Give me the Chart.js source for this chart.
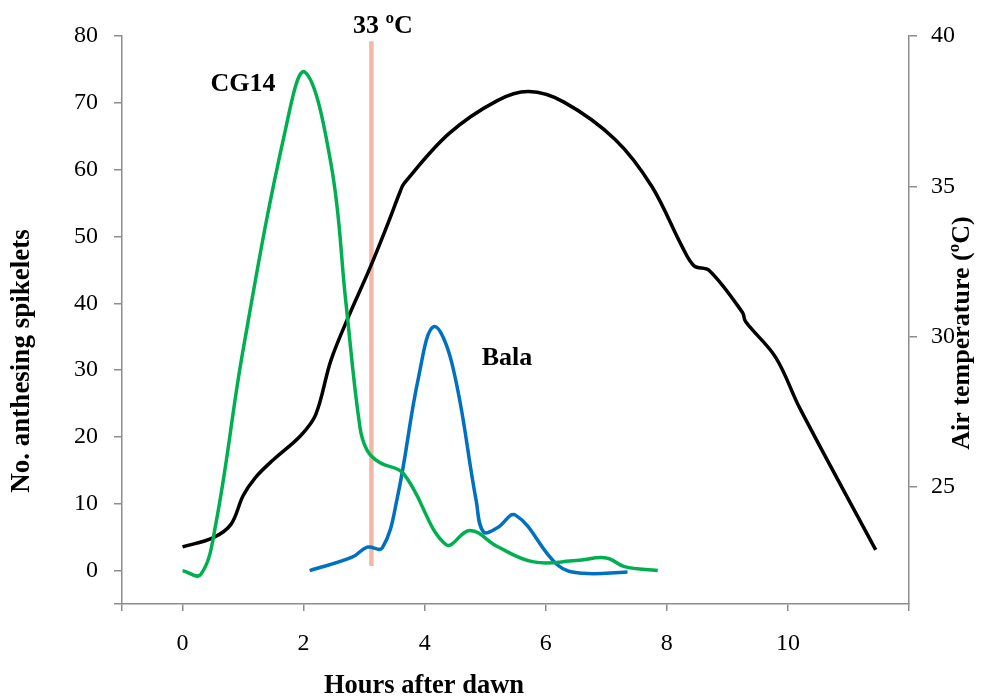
<!DOCTYPE html>
<html>
<head>
<meta charset="utf-8">
<script src="https://cdn.jsdelivr.net/npm/chart.js@4.4.1/dist/chart.umd.min.js"></script>
<style>
	body { margin: 0; background: #fff; }
	#wrap { width: 1002px; height: 698px; position: relative; }
</style>
</head>
<body>
<div id="wrap"><canvas id="chart"></canvas></div>
<script>
// hours after dawn / number of anthesing spikelets
const cg14Hours = [0, 0.3, 0.55, 1.0, 1.7, 2.02, 2.45, 2.7, 2.93, 3.05, 3.25, 3.65, 4.35, 4.75, 5.2, 5.8, 6.5, 7.0, 7.3, 7.85];
const cg14Count = [0, -0.6, 7, 33, 66, 74.6, 61, 40, 21.5, 18, 16.2, 14.5, 3.9, 6, 3.6, 1.3, 1.5, 1.9, 0.6, 0];

const balaHours = [2.1, 2.8, 3.05, 3.3, 3.55, 3.9, 4.15, 4.45, 4.85, 4.97, 5.2, 5.5, 6.2, 6.6, 7.35];
const balaCount = [0, 2, 3.5, 3.4, 11, 29, 36.5, 31, 10.5, 5.8, 6.4, 8.3, 0.8, -0.4, -0.2];

// air temperature (right axis)
const tempHours = [0, 0.5, 0.8, 1.0, 1.2, 1.5, 1.95, 2.2, 2.45, 2.75, 3.1, 3.4, 3.6, 3.66, 4.4, 5.2, 5.72, 6.3, 7.15, 7.75, 8.25, 8.45, 8.7, 9.25, 9.3, 9.8, 10.2, 11.45];
const tempValue = [23.0, 23.3, 23.75, 24.7, 25.3, 25.9, 26.7, 27.4, 29.2, 30.7, 32.3, 33.8, 34.85, 35.1, 36.75, 37.85, 38.15, 37.8, 36.55, 35.0, 33.0, 32.35, 32.2, 30.8, 30.5, 29.3, 27.6, 22.9];

// 33 ºC marker
const markHours = [3.12, 3.12];
const markCount = [0.7, 79.2];

const xTicks = [-1, 0, 2, 4, 6, 8, 10, 12];
const xLabels = [0, 2, 4, 6, 8, 10];
const countTicks = [-5, 0, 10, 20, 30, 40, 50, 60, 70, 80];
const tempTicks = [25, 30, 35, 40];

const serif = "'Liberation Serif', 'Times New Roman', serif";
const axisGray = '#8c8c8c';

function points(xs, ys) {
	return xs.map((x, i) => ({ x: x, y: ys[i] }));
}

const labelsPlugin = {
	id: 'labels',
	afterDraw(chart) {
		const ctx = chart.ctx;
		const x = chart.scales.x;
		const yl = chart.scales.y;
		ctx.save();
		ctx.fillStyle = '#000';
		ctx.textAlign = 'center';
		ctx.textBaseline = 'middle';
		ctx.font = 'bold 26px ' + serif;
		ctx.fillText('CG14', x.getPixelForValue(1.0), yl.getPixelForValue(72.7));
		ctx.fillText('Bala', x.getPixelForValue(5.36), yl.getPixelForValue(31.8));
		ctx.fillText('33 ºC', x.getPixelForValue(3.31), yl.getPixelForValue(81.4));

		// axis titles
		ctx.font = 'bold 26.5px ' + serif;
		ctx.fillText('Hours after dawn', 424, 686);

		ctx.save();
		ctx.font = 'bold 27px ' + serif;
		ctx.translate(22, 361);
		ctx.rotate(-Math.PI / 2);
		ctx.fillText('No. anthesing spikelets', 0, 0);
		ctx.restore();

		ctx.save();
		ctx.font = 'bold 26px ' + serif;
		ctx.translate(962, 333);
		ctx.rotate(-Math.PI / 2);
		ctx.fillText('Air temperature (ºC)', 0, 0);
		ctx.restore();
		ctx.restore();
	}
};

const ctx = document.getElementById('chart').getContext('2d');
new Chart(ctx, {
	type: 'line',
	data: {
		datasets: [
			{
				label: 'CG14',
				data: points(cg14Hours, cg14Count),
				borderColor: '#00b050',
				borderWidth: 3.5,
				tension: 0.4,
				pointRadius: 0,
				yAxisID: 'y'
			},
			{
				label: 'Bala',
				data: points(balaHours, balaCount),
				borderColor: '#0070c0',
				borderWidth: 3.5,
				tension: 0.4,
				pointRadius: 0,
				yAxisID: 'y'
			},
			{
				label: 'Air temperature',
				data: points(tempHours, tempValue),
				borderColor: '#000',
				borderWidth: 3.5,
				tension: 0.35,
				pointRadius: 0,
				yAxisID: 'y2'
			},
			{
				label: '33 ºC',
				data: points(markHours, markCount),
				borderColor: '#f4b7a5',
				borderWidth: 4.5,
				tension: 0,
				pointRadius: 0,
				yAxisID: 'y'
			}
		]
	},
	options: {
		responsive: true,
		maintainAspectRatio: false,
		animation: false,
		layout: { padding: { top: 36, left: 0, right: 0, bottom: 0 } },
		plugins: {
			legend: { display: false },
			tooltip: { enabled: false }
		},
		scales: {
			x: {
				type: 'linear',
				position: 'bottom',
				min: -1,
				max: 12,
				afterBuildTicks: (scale) => { scale.ticks = xTicks.map(v => ({ value: v })); },
				afterFit: (scale) => { scale.height = 94; },
				border: { display: true, color: axisGray, width: 1.5 },
				grid: { display: true, drawOnChartArea: false, drawTicks: true, tickLength: 7, color: axisGray, lineWidth: 1.5 },
				ticks: {
					padding: 18,
					color: '#000',
					font: { family: serif, size: 24 },
					maxRotation: 0,
					callback: (v) => xLabels.includes(v) ? String(v) : ''
				}
			},
			y: {
				type: 'linear',
				position: 'left',
				min: -5,
				max: 80,
				afterBuildTicks: (scale) => { scale.ticks = countTicks.map(v => ({ value: v })); },
				afterFit: (scale) => { scale.width = 122; },
				border: { display: true, color: axisGray, width: 1.5 },
				grid: { display: true, drawOnChartArea: false, drawTicks: true, tickLength: 8, color: axisGray, lineWidth: 1.5 },
				ticks: {
					padding: 16,
					color: '#000',
					font: { family: serif, size: 24 },
					callback: (v) => v >= 0 ? String(v) : ''
				}
			},
			y2: {
				type: 'linear',
				position: 'right',
				min: 21.1,
				max: 40,
				afterBuildTicks: (scale) => { scale.ticks = tempTicks.map(v => ({ value: v })); },
				afterFit: (scale) => { scale.width = 93; },
				border: { display: true, color: axisGray, width: 1.5 },
				grid: { display: true, drawOnChartArea: false, drawTicks: true, tickLength: 8, color: axisGray, lineWidth: 1.5 },
				ticks: {
					padding: 14,
					color: '#000',
					font: { family: serif, size: 24 },
					callback: (v) => String(v)
				}
			}
		}
	},
	plugins: [labelsPlugin]
});
</script>
</body>
</html>
